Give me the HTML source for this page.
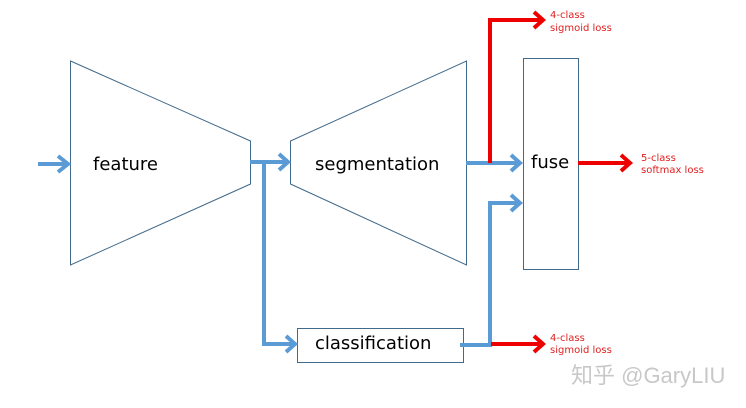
<!DOCTYPE html>
<html><head><meta charset="utf-8"><style>
body{margin:0;background:#fff;}
svg{display:block}
text{font-family:"DejaVu Sans","Liberation Sans",sans-serif}
</style></head><body>
<svg width="746" height="408" viewBox="0 0 746 408">
<g fill="none" stroke="#41698a" stroke-width="1">
<polygon points="70.5,61 250.5,141 250.5,184 70.5,265"/>
<polygon points="290.5,141 466.5,61 466.5,265 290.5,184"/>
<rect x="523.5" y="58.5" width="55" height="211"/>
<rect x="297.5" y="328.5" width="166" height="34"/>
</g>
<g fill="none" stroke="#5b9bd5" stroke-width="4" stroke-linejoin="miter">
<line x1="38" y1="164" x2="68" y2="164"/><polyline points="58,156 68,164 58,172"/>
<line x1="250" y1="162" x2="288" y2="162"/><polyline points="279,154 288,162 279,170"/>
<polyline points="264,162 264,344 295,344"/><polyline points="286,336 295,344 286,352"/>
<line x1="466" y1="163" x2="520" y2="163"/><polyline points="511,155 520,163 511,171"/>
<polyline points="460,345 490,345 490,203 520,203"/><polyline points="511,195 520,203 511,211"/>
</g>
<g fill="none" stroke="#e00" stroke-width="4">
<polyline points="490,163 490,20 543,20"/><polyline points="534,12 543,20 534,28"/>
<line x1="491" y1="344" x2="543" y2="344"/><polyline points="534,336 543,344 534,352"/>
<line x1="578" y1="163" x2="630" y2="163"/><polyline points="621,155 630,163 621,171"/>
</g>
<g font-size="18" fill="#000">
<text x="93" y="170">feature</text>
<text x="315" y="170">segmentation</text>
<text x="531" y="168">fuse</text>
<text x="315" y="349">classification</text>
</g>
<g font-size="10" fill="#e02020">
<text x="550" y="18">4-class</text><text x="550" y="31">sigmoid loss</text>
<text x="641" y="161">5-class</text><text x="641" y="173">softmax loss</text>
<text x="550" y="341">4-class</text><text x="550" y="353">sigmoid loss</text>
</g>
<text x="571" y="383" font-size="22" fill="#c8c8c8" style="font-family:'Liberation Sans','Noto Sans CJK SC',sans-serif">知乎 @GaryLIU</text>
</svg>
</body></html>
